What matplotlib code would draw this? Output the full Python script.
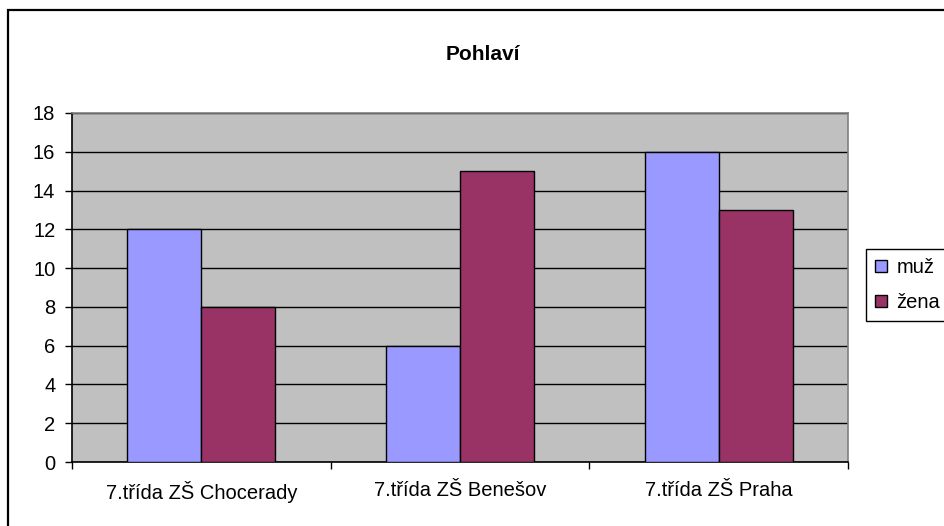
import matplotlib.pyplot as plt
import matplotlib.patches as mpatches
import numpy as np

categories = ["7.třída ZŠ Chocerady", "7.třída ZŠ Benešov", "7.třída ZŠ Praha"]
muz = [12, 6, 16]
zena = [8, 15, 13]
series_names = ["muž", "žena"]
y_ticks = [0, 2, 4, 6, 8, 10, 12, 14, 16, 18]

plt.rcParams['font.family'] = ['Liberation Sans', 'DejaVu Sans']

W, H = 944, 526
fig = plt.figure(figsize=(W / 100, H / 100), dpi=100)

# outer chart border (runs off the right/bottom of the image)
fig.patches.append(mpatches.Rectangle((8 / W, -0.1), 1.2, 1 - 10 / H + 0.1,
                                      transform=fig.transFigure, fill=False,
                                      edgecolor='black', linewidth=1.6))

left, right, top, bottom = 72, 848, 113, 462
ax = fig.add_axes([left / W, 1 - bottom / H, (right - left) / W, (bottom - top) / H])
ax.set_facecolor('#C0C0C0')

x = np.arange(len(categories))
w = 0.286
ax.bar(x - w / 2, muz, w, color='#9999FF', edgecolor='black', linewidth=1, zorder=3, label=series_names[0])
ax.bar(x + w / 2, zena, w, color='#993366', edgecolor='black', linewidth=1, zorder=3, label=series_names[1])

ax.set_ylim(0, 18)
ax.set_yticks(y_ticks)
ax.yaxis.grid(True, color='black', linewidth=1, zorder=1)
ax.set_axisbelow(True)
ax.tick_params(axis='y', direction='out', length=5, width=1, pad=7, labelsize=14.5)

ax.set_xlim(-0.5, len(categories) - 0.5)
ax.set_xticks(np.arange(len(categories) + 1) - 0.5)
ax.set_xticklabels([])
ax.set_xticks(x, minor=True)
ax.set_xticklabels(categories, minor=True)
ax.tick_params(axis='x', which='major', direction='out', length=5, width=1)
ax.tick_params(axis='x', which='minor', length=0, pad=14, labelsize=14.5)

for s in ['left', 'bottom']:
    ax.spines[s].set_color('black')
    ax.spines[s].set_linewidth(1.2)
for s in ['top', 'right']:
    ax.spines[s].set_color('#808080')
    ax.spines[s].set_linewidth(1.2)

# title is centred on the whole chart box, not the plot area
fig.text(483 / W, 1 - 54 / H, "Pohlaví", ha='center', va='center',
         fontsize=15, fontweight='bold')

leg = fig.legend(loc='upper left', bbox_to_anchor=(866 / W, 1 - 249 / H),
                 frameon=True, fancybox=False, edgecolor='black', framealpha=1,
                 fontsize=14.5, handlelength=0.6, handleheight=0.6, handletextpad=0.45,
                 labelspacing=0.8, borderpad=0.45, borderaxespad=0)
leg.get_frame().set_linewidth(1)

fig.savefig('out.png', dpi=100)
